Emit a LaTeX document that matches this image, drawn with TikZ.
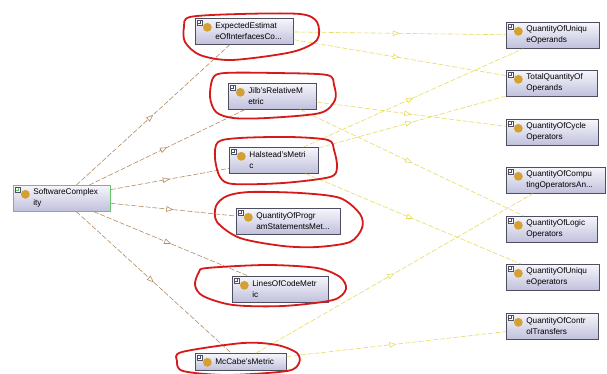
\documentclass[tikz,border=0pt]{standalone}
\usepackage{fontspec}
\setmainfont{Liberation Sans}
\usetikzlibrary{arrows.meta,decorations.markings}
\definecolor{clsborder}{RGB}{78,78,96}
\definecolor{clstop}{RGB}{246,246,252}
\definecolor{clsbot}{RGB}{192,192,220}
\definecolor{rootborder}{RGB}{104,196,104}
\definecolor{dotgold}{RGB}{212,160,50}
\definecolor{isabrown}{RGB}{178,140,98}
\definecolor{propyellow}{RGB}{232,220,96}
\definecolor{markred}{RGB}{214,26,26}
\tikzset{
  cls/.style={rectangle, anchor=north west, draw=clsborder, line width=0.7pt,
    top color=clstop, bottom color=clsbot, inner xsep=0pt, inner ysep=2pt,
    minimum height=26pt, text width=#1, align=left,
    font=\fontsize{8.2}{11}\selectfont,
    execute at begin node={\leftskip=20pt\hyphenpenalty=10000},
    path picture={
      \draw[draw=clsborder, fill=white, line width=0.3pt]
        ([shift={(2pt,-2pt)}]path picture bounding box.north west) rectangle ++(5pt,-5pt);
      \draw[line width=0.3pt]
        ([shift={(3pt,-4.5pt)}]path picture bounding box.north west) -- ++(3pt,0pt)
        ([shift={(4.5pt,-3pt)}]path picture bounding box.north west) -- ++(0pt,-3pt);
      \fill[dotgold] ([shift={(12pt,-9pt)}]path picture bounding box.north west) circle (4.4pt);
    }},
  cls/.default=90pt,
  root/.style={cls=#1, draw=rootborder},
  isa/.style={draw=isabrown, line width=0.6pt, dash pattern=on 5pt off 2pt,
    postaction={decorate}, decoration={markings,
      mark=at position 0.5 with {\arrow[isabrown]{Triangle[open, fill=white, length=7pt, width=5.5pt]}}}},
  prop/.style={draw=propyellow, line width=0.6pt, dash pattern=on 5pt off 2pt,
    postaction={decorate}, decoration={markings,
      mark=at position 0.5 with {\arrow[propyellow]{Triangle[open, fill=white, length=7pt, width=5.5pt]}}}},
  redloop/.style={draw=markred, line width=1.8pt, line join=round}
}
\begin{document}
\begin{tikzpicture}[x=1pt, y=-1pt]
  \useasboundingbox (0,0) rectangle (607,374);
  \fill[white] (0,0) rectangle (607,374);
  % root class
  \node[root=97pt] (softcomplexity) at (13,185) {SoftwareComplex\\ity};
  % metrics
  \node[cls=98pt] (expected) at (195,18) {ExpectedEstimat\\eOfInterfacesCo...};
  \node[cls=88pt] (jilb) at (228,83) {Jilb'sRelativeM\\etric};
  \node[cls=89pt] (halstead) at (229,147) {Halstead'sMetri\\c};
  \node[cls=104pt] (program) at (236,208) {QuantityOfProgr\\amStatementsMet...};
  \node[cls=96pt] (linescode) at (232,276) {LinesOfCodeMetr\\ic};
  \node[cls=91pt, minimum height=17pt] (mccabe) at (195,353) {McCabe'sMetric};
  % quantities
  \node[cls=93pt] (uoperands) at (506,22) {QuantityOfUniqu\\eOperands};
  \node[cls=91pt] (toperands) at (506,70) {TotalQuantityOf\\Operands};
  \node[cls=92pt] (cycleop) at (506,119) {QuantityOfCycle\\Operators};
  \node[cls=99pt] (computing) at (506,167) {QuantityOfCompu\\tingOperatorsAn...};
  \node[cls=91pt] (logicop) at (506,216) {QuantityOfLogic\\Operators};
  \node[cls=93pt] (uoperators) at (506,264) {QuantityOfUniqu\\eOperators};
  \node[cls=92pt] (control) at (506,313) {QuantityOfContr\\olTransfers};
  % subclass links
  \draw[isa] (softcomplexity) -- (expected);
  \draw[isa] (softcomplexity) -- (jilb);
  \draw[isa] (softcomplexity) -- (halstead);
  \draw[isa] (softcomplexity) -- (program);
  \draw[isa] (softcomplexity) -- (linescode);
  \draw[isa] (softcomplexity) -- (mccabe);
  % property links
  \draw[prop] (expected) -- (uoperands);
  \draw[prop] (expected) -- (toperands);
  \draw[prop] (jilb) -- (cycleop);
  \draw[prop] (jilb) -- (logicop);
  \draw[prop] (halstead) -- (uoperands);
  \draw[prop] (halstead) -- (toperands);
  \draw[prop] (halstead) -- (uoperators);
  \draw[prop] (mccabe) -- (computing);
  \draw[prop] (mccabe) -- (control);
  % red marks
  \draw[redloop] plot[smooth cycle] coordinates {(190,17) (240,14) (300,14) (317,22) (317,40) (292,52) (232,60) (200,55) (185,42) (184,27)};
  \draw[redloop] plot[smooth cycle] coordinates {(213,78) (225,73) (275,73) (327,75) (334,85) (335,100) (320,113) (267,118) (233,118) (216,112) (210,97)};
  \draw[redloop] plot[smooth cycle] coordinates {(218,142) (240,138) (290,137) (328,140) (334,150) (337,167) (330,177) (283,183) (233,184) (220,177) (215,158)};
  \draw[redloop] plot[smooth cycle] coordinates {(227,196) (250,192) (300,193) (340,198) (360,214) (362,228) (350,242) (317,247) (283,246) (240,238) (217,222) (216,206)};
  \draw[redloop] plot[smooth cycle] coordinates {(207,268) (267,265) (317,268) (340,277) (346,289) (333,300) (283,306) (233,305) (203,296) (195,285) (199,272)};
  \draw[redloop] plot[smooth cycle] coordinates {(182,352) (243,343) (277,345) (297,353) (299,363) (287,371) (227,375) (183,371) (177,361)};
\end{tikzpicture}
\end{document}
